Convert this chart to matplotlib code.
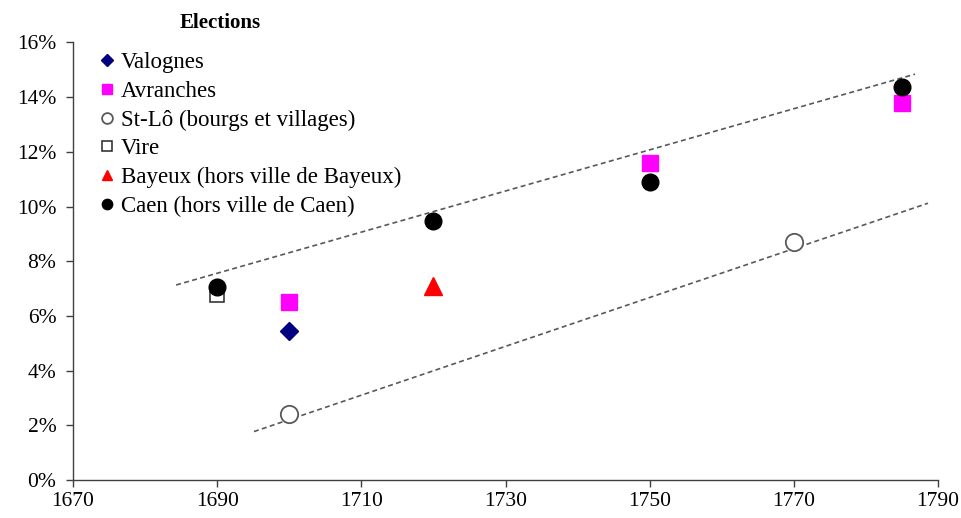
import matplotlib.pyplot as plt
from matplotlib.ticker import FuncFormatter

# valeurs (en %)
valognes_x = [1700]
valognes_y = [5.45]
avranches_x = [1700, 1750, 1785]
avranches_y = [6.5, 11.6, 13.8]
stlo_x = [1700, 1770]
stlo_y = [2.4, 8.7]
vire_x = [1690]
vire_y = [6.75]
bayeux_x = [1720]
bayeux_y = [7.1]
caen_x = [1690, 1720, 1750, 1785]
caen_y = [7.07, 9.47, 10.9, 14.38]

# lignes de tendance (extremites)
trend_high_x = [1684.3, 1786.8]
trend_high_y = [7.13, 14.84]
trend_low_x = [1695.1, 1788.6]
trend_low_y = [1.77, 10.12]

x_ticks = [1670, 1690, 1710, 1730, 1750, 1770, 1790]
y_ticks = [0, 2, 4, 6, 8, 10, 12, 14, 16]

plt.rcParams['font.family'] = ['Liberation Serif', 'DejaVu Serif']

fig = plt.figure(figsize=(9.62, 5.18), dpi=100)
ax = fig.add_axes([0.0759, 0.0734, 0.8992, 0.8447])

ax.plot(trend_high_x, trend_high_y, ls=(0, (3, 2)), color='#595959', lw=1.2, zorder=1)
ax.plot(trend_low_x, trend_low_y, ls=(0, (3, 2)), color='#595959', lw=1.2, zorder=1)

ax.plot(valognes_x, valognes_y, 'D', ms=9.5, color='#000080', ls='none', label='Valognes')
ax.plot(avranches_x, avranches_y, 's', ms=12, color='#FF00FF', ls='none', label='Avranches')
ax.plot(stlo_x, stlo_y, 'o', ms=12.5, mfc='white', mec='#595959', mew=1.3, ls='none',
        label='St-Lô (bourgs et villages)')
ax.plot(vire_x, vire_y, 's', ms=10.5, mfc='white', mec='#262626', mew=1.1, ls='none', label='Vire')
ax.plot(bayeux_x, bayeux_y, '^', ms=12.5, color='#FF0000', ls='none',
        label='Bayeux (hors ville de Bayeux)')
ax.plot(caen_x, caen_y, 'o', ms=12, color='black', ls='none', label='Caen (hors ville de Caen)')

ax.set_xlim(1670, 1790)
ax.set_ylim(0, 16)
ax.set_xticks(x_ticks)
ax.set_yticks(y_ticks)
ax.yaxis.set_major_formatter(FuncFormatter(lambda v, p: f'{v:.0f}%'))
ax.tick_params(labelsize=15.5, direction='out', length=5, width=1, color='#404040')
ax.tick_params(axis='y', pad=7)
ax.tick_params(axis='x', pad=4)
for s in ['top', 'right']:
    ax.spines[s].set_visible(False)
for s in ['left', 'bottom']:
    ax.spines[s].set_color('#404040')
    ax.spines[s].set_linewidth(1)

fig.text(0.2287, 0.955, 'Elections', ha='center', va='center', fontsize=15, fontweight='bold')
leg = ax.legend(loc='upper left', bbox_to_anchor=(0.102, 0.9), bbox_transform=fig.transFigure,
                frameon=False, fontsize=16.5, markerscale=0.62, handlelength=0.75,
                handletextpad=0.25, labelspacing=0.34, borderpad=0, borderaxespad=0)

fig.savefig('out.png', dpi=100)
